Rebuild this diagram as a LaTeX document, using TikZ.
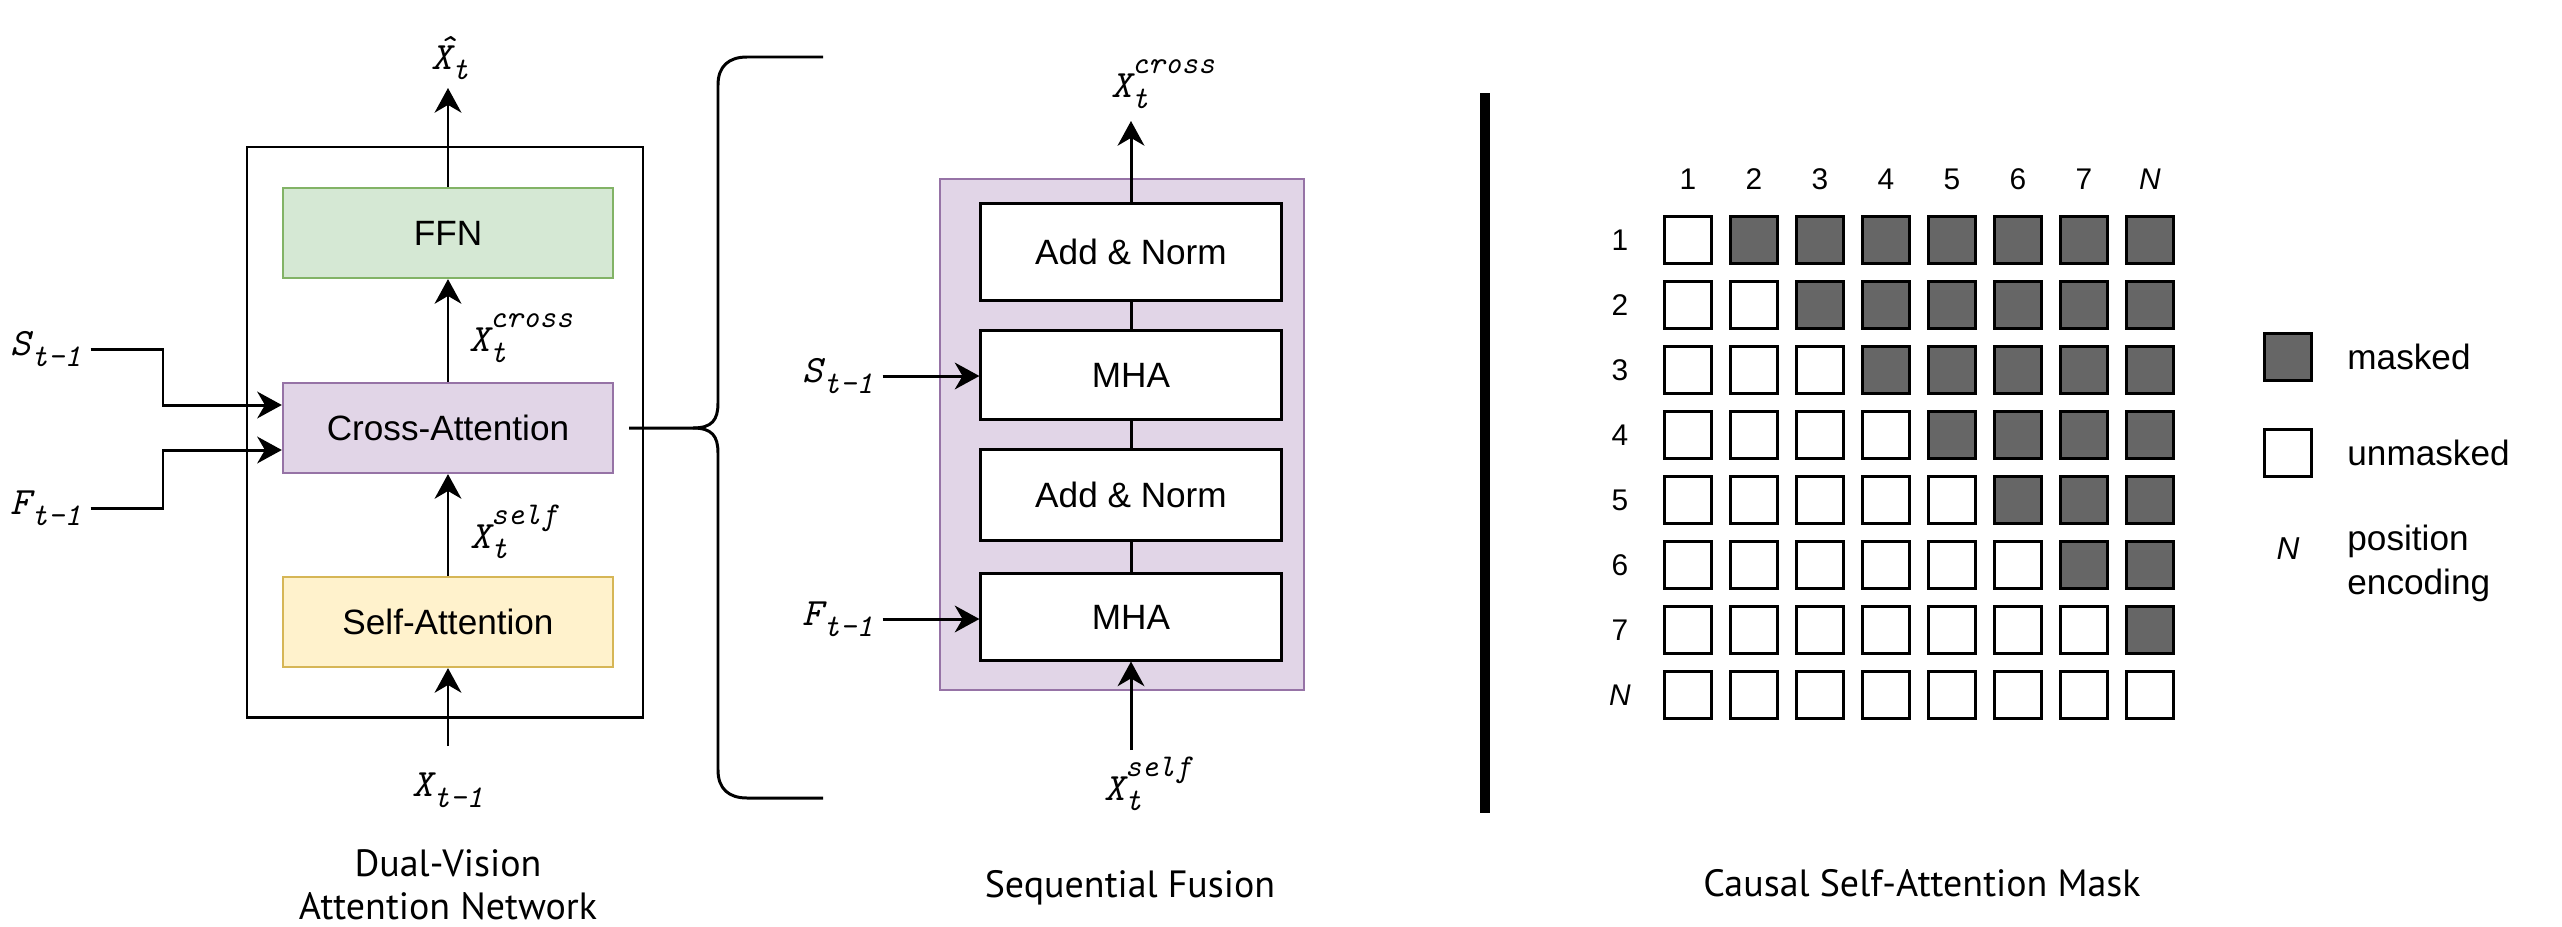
\documentclass[tikz,border=0pt]{standalone}
\usepackage{fontspec}
\setmainfont{Liberation Sans}
\newfontfamily\titlefont{PT Sans}
\usetikzlibrary{positioning,arrows.meta}

\definecolor{ffnfill}{HTML}{D5E8D4}
\definecolor{ffnline}{HTML}{82B366}
\definecolor{crossfill}{HTML}{E1D5E7}
\definecolor{crossline}{HTML}{9673A6}
\definecolor{selffill}{HTML}{FFF2CC}
\definecolor{selfline}{HTML}{D6B656}
\definecolor{maskgray}{HTML}{666666}

\newcommand{\varsize}{\fontsize{9}{10}\selectfont}
\newcommand{\vsub}[2]{{\ttfamily\itshape #1\raisebox{-3pt}{\varsize #2}}}
\newcommand{\vboth}[3]{{\ttfamily\itshape #1\rlap{\raisebox{-3pt}{\varsize #2}}\raisebox{6.8pt}{\varsize #3}}}
\newcommand{\vhat}[2]{{\ttfamily\itshape\rlap{\hspace{1pt}\raisebox{2.5pt}{ˆ}}#1\raisebox{-3pt}{\varsize #2}}}

\tikzset{
	arr/.style={-{Stealth[length=7pt,width=7.6pt,inset=2.2pt]}, line width=0.85pt},
	wire/.style={line width=0.85pt},
	box/.style={draw, minimum width=3.3cm, minimum height=0.9cm, line width=0.6pt, font=\fontsize{10}{12}\selectfont},
	sfbox/.style={draw, fill=white, minimum width=3cm, line width=0.85pt, font=\fontsize{10}{12}\selectfont},
	var/.style={font=\fontsize{11}{12}\selectfont, inner sep=2.5pt},
	cell/.style={draw, line width=0.85pt, minimum size=0.47cm, inner sep=0pt},
	num/.style={font=\fontsize{8.5}{10}\selectfont},
	legendtext/.style={font=\fontsize{10}{12.5}\selectfont, align=left, anchor=west},
	titletext/.style={font=\titlefont\fontsize{10.8}{12.2}\selectfont, align=center},
}

\begin{document}
\begin{tikzpicture}[x=0.01cm, y=-0.01cm]
	\useasboundingbox (0,0) rectangle (2562,927);

	% dual-vision attention network
	\draw[wire] (247,147) rectangle (643,717);
	\node[box, fill=ffnfill, draw=ffnline] (ffn) at (448,233) {FFN};
	\node[box, fill=crossfill, draw=crossline] (cross) at (448,428) {Cross-Attention};
	\node[box, fill=selffill, draw=selfline] (selfatt) at (448,622) {Self-Attention};

	\node[var] (xhat) at (450,58) {\vhat{X}{t}};
	\node[var] (xcross) at (521,338) {\vboth{X}{t}{cross}};
	\node[var] (xself) at (514,532) {\vboth{X}{t}{self}};
	\node[var] (xin) at (448,790) {\vsub{X}{t-1}};
	\node[var] (sin) at (46,349) {\vsub{S}{t-1}};
	\node[var] (fin) at (46,508) {\vsub{F}{t-1}};

	\coordinate (xintop) at (448,746);
	\coordinate (xhatend) at (448,88);
	\coordinate (sbend) at (163,405);
	\coordinate (fbend) at (163,450);

	\draw[arr] (ffn) -- (xhatend);
	\draw[arr] (cross) -- (ffn);
	\draw[arr] (selfatt) -- (cross);
	\draw[arr] (xintop) -- (selfatt);
	\draw[arr] (sin.east) -| (sbend) -- (sbend -| cross.west);
	\draw[arr] (fin.east) -| (fbend) -- (fbend -| cross.west);

	% brace
	\coordinate (bracetop) at (823,57);
	\coordinate (bracebot) at (823,798);
	\draw[wire] ([xshift=0.15cm]cross.east) -- (693,428) .. controls (712,428) and (718,420) .. (718,403) -- (718,85) .. controls (718,66) and (729,57) .. (747,57) -- (bracetop);
	\draw[wire] (693,428) .. controls (712,428) and (718,436) .. (718,453) -- (718,770) .. controls (718,789) and (729,798) .. (747,798) -- (bracebot);

	% sequential fusion
	\draw[line width=0.6pt, fill=crossfill, draw=crossline] (940,179) rectangle (1304,690);
	\node[sfbox, minimum height=0.96cm] (an1) at (1131,252) {Add \& Norm};
	\node[sfbox, minimum height=0.89cm] (mha1) at (1131,375) {MHA};
	\node[sfbox, minimum height=0.9cm] (an2) at (1131,495) {Add \& Norm};
	\node[sfbox, minimum height=0.86cm] (mha2) at (1131,617) {MHA};
	\draw[wire] (an1) -- (mha1);
	\draw[wire] (mha1) -- (an2);
	\draw[wire] (an2) -- (mha2);

	\node[var] (xcross2) at (1163,84) {\vboth{X}{t}{cross}};
	\node[var] (xself2) at (1148,784) {\vboth{X}{t}{self}};
	\node[var] (smid) at (838,376) {\vsub{S}{t-1}};
	\node[var] (fmid) at (838,619) {\vsub{F}{t-1}};
	\coordinate (sftop) at (1131,121);
	\coordinate (sfbot) at (1131,750);

	\draw[arr] (an1) -- (sftop);
	\draw[arr] (sfbot) -- (mha2);
	\draw[arr] (smid) -- (smid -| mha1.west);
	\draw[arr] (fmid) -- (fmid -| mha2.west);

	\draw[line width=2.6pt] (1485,93) -- (1485,813);

	% causal mask
	\foreach \r in {1,...,8} {
		\foreach \c in {1,...,8} {
			\ifnum\c>\r \def\shade{maskgray}\else\def\shade{white}\fi
			\node[cell, fill=\shade] (m\r\c) at ({1688+66*(\c-1)}, {240+65*(\r-1)}) {};
		}
	}
	\foreach \i/\t in {1/1,2/2,3/3,4/4,5/5,6/6,7/7,8/\textit{N}} {
		\node[num] (col\i) at ({1688+66*(\i-1)}, 179) {\t};
		\node[num] (row\i) at (1620, {240+65*(\i-1)}) {\t};
	}

	\node[cell, fill=maskgray] (keymask) at (2288,357) {};
	\node[cell, fill=white] (keyopen) at (2288,453) {};
	\node[font=\fontsize{9}{10}\selectfont\itshape] (keypos) at (2288,549) {N};
	\node[legendtext] (txtmask) at (2335,357) {masked};
	\node[legendtext] (txtopen) at (2335,453) {unmasked};
	\node[legendtext] (txtpos) at (2335,563) {position\\encoding};

	% captions
	\node[titletext] (dvtitle) at (448,885) {Dual-Vision\\Attention Network};
	\node[titletext, anchor=base] (sftitle) at (1130,897) {Sequential Fusion};
	\node[titletext, anchor=base] (masktitle) at (1922,896) {Causal Self-Attention Mask};
\end{tikzpicture}
\end{document}
